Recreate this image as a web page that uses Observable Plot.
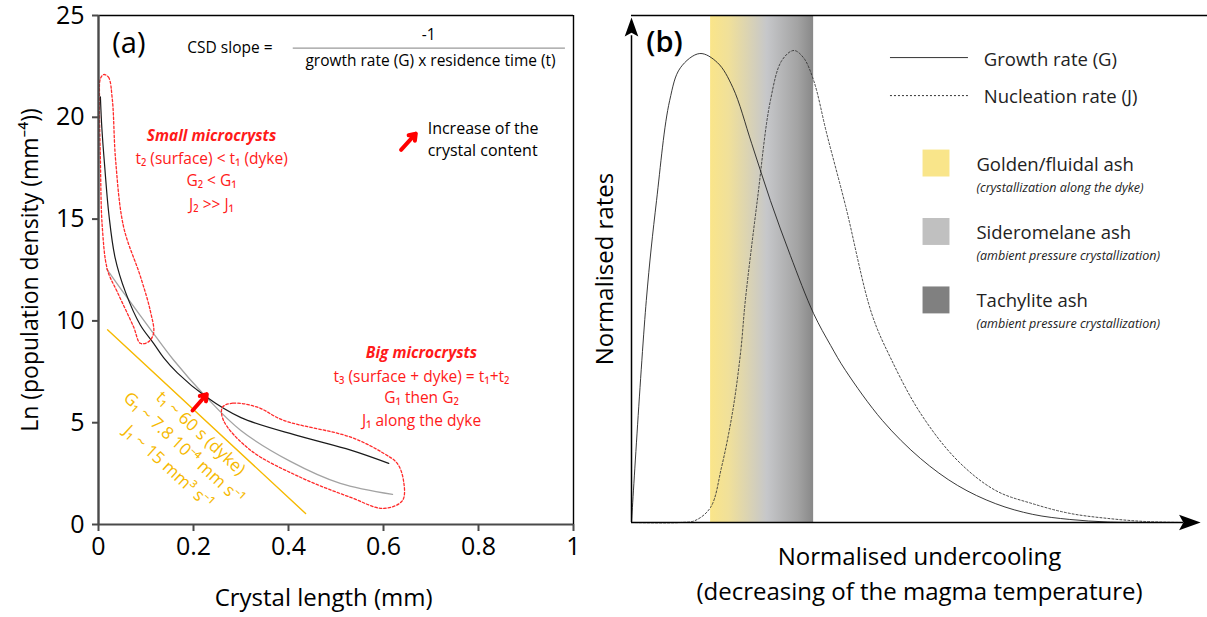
<!DOCTYPE html>
<html><head><meta charset="utf-8">
<script src="https://cdn.jsdelivr.net/npm/d3@7"></script>
<script src="https://cdn.jsdelivr.net/npm/@observablehq/plot@0.6"></script>
<style>
body{margin:0;background:#fff;}
#wrap{display:flex;width:1207px;height:617px;overflow:hidden;}
svg{display:block;overflow:visible;}
</style>
</head><body><div id="wrap"></div>
<script>
// ---------- Panel (a) data ----------
const xTicksA = [0, 0.2, 0.4, 0.6, 0.8, 1];
const yTicksA = [0, 5, 10, 15, 20, 25];
const csdBlack = [[0.004,21.0],[0.007,19.5],[0.013,17.6],[0.022,15.2],[0.035,13.1],[0.057,11.4],[0.088,9.8],[0.116,8.9],[0.137,8.2],[0.166,7.45],[0.225,6.3],[0.30,5.25],[0.425,4.33],[0.531,3.65],[0.611,3.0]];
const csdGray = [[0.017,12.56],[0.057,11.25],[0.109,9.6],[0.158,8.08],[0.225,6.3],[0.299,4.63],[0.404,3.1],[0.509,2.02],[0.619,1.48]];
const yellowLine = [[0.019,9.56],[0.436,0.54]];
const smallEnvelope = [[0.011,22.1],[0.021,21.97],[0.029,20.9],[0.036,17.9],[0.053,14.6],[0.088,12.2],[0.109,10.5],[0.116,9.4],[0.105,8.97],[0.088,8.9],[0.074,9.7],[0.040,11.4],[0.019,12.5],[0.008,14.6],[0.004,17.9],[0.002,20.9],[0.004,21.9]];
const bigEnvelope = [[0.261,5.76],[0.284,5.96],[0.335,5.76],[0.389,5.12],[0.531,4.29],[0.600,3.50],[0.629,3.0],[0.642,2.17],[0.640,1.18],[0.600,0.79],[0.531,1.33],[0.425,2.32],[0.320,3.65],[0.263,5.12]];
const redArrows = [{x1:0.198,y1:5.6,x2:0.228,y2:6.4},{x1:0.637,y1:18.4,x2:0.668,y2:19.2}];
const smallTitle = ["Small microcrysts"];
const smallLabels = ["t\u2082 (surface) < t\u2081 (dyke)","G\u2082 < G\u2081","J\u2082 >> J\u2081"];
const bigTitle = ["Big microcrysts"];
const bigLabels = ["t\u2083 (surface + dyke) = t\u2081+t\u2082","G\u2081 then G\u2082","J\u2081 along the dyke"];
const yellowLabels = ["t\u2081 ~ 60 s (dyke)","G\u2081 ~ 7.8 10\u207B\u2074 mm s\u207B\u00B9","J\u2081 ~ 15 mm\u00B3 s\u207B\u00B9"];
const increaseLabels = ["Increase of the","crystal content"];

// ---------- Panel (b) data ----------
const growthCurve = [[0,0],[2.6,43.8],[4.4,63.5],[6.7,83.2],[8.6,89.7],[12.0,92.5],[15.1,90.7],[17.8,85.8],[21.1,74.8],[24.4,63.5],[27.9,52.7],[32.0,41.2],[35.0,34.9],[37.6,30.0],[44.1,20.1],[50.8,12.6],[57.3,7.3],[64.0,3.7],[70.5,1.6],[77.0,0.6],[83.7,0.1],[91.2,0]];
const nucleationCurve = [[0,0],[8.6,0],[11.2,0.4],[13.9,3.0],[15.8,10.8],[17.8,22.1],[19.2,33.9],[20.0,43.8],[22.1,63.5],[24.4,83.2],[26.4,91.1],[28.5,93.1],[30.2,91.7],[32.0,87.2],[34.3,76.7],[37.6,62.5],[42.2,41.2],[45.5,32.5],[50.8,21.5],[57.3,12.2],[64.0,6.3],[70.5,3.7],[77.0,1.8],[83.7,0.8],[90.2,0.2],[96.5,0]];
const ashBand = [{x1:13.9, x2:32.0, y1:0, y2:100}];
const growthName = ["Growth rate (G)"];
const nucleationName = ["Nucleation rate (J)"];
const ashNames = ["Golden/fluidal ash","Sideromelane ash","Tachylite ash"];
const ashNotes = ["(crystallization along the dyke)","(ambient pressure crystallization)","(ambient pressure crystallization)"];
const ashColors = ["#f9e58a","#c0c0c0","#808080"];
const xTitleB = ["Normalised undercooling", "(decreasing of the magma temperature)"];

const FONT = "'Open Sans', 'Noto Sans', 'DejaVu Sans', sans-serif";
const P = d => d[0], Q = d => d[1];

// arrowhead symbol: tip at origin, body downward
const arrowHead = {draw(ctx, size){ const s = Math.sqrt(size/Math.PI)*1.8; ctx.moveTo(0,0); ctx.lineTo(0.36*s, s); ctx.lineTo(0, 0.8*s); ctx.lineTo(-0.36*s, s); ctx.closePath(); }};

const redBold = {fontSize: 15.5, fill: "#ff1a1a", fontWeight: "bold", fontStyle: "italic"};
const redReg = {fontSize: 15.5, fill: "#ff1a1a"};

// ---------- Panel (a) ----------
const plotA = Plot.plot({
  width: 600, height: 617,
  marginLeft: 98, marginRight: 27, marginTop: 15, marginBottom: 93,
  style: {fontFamily: FONT, color: "#000", background: "#fff", overflow: "visible"},
  x: {domain: [0, 1]},
  y: {domain: [0, 25]},
  marks: [
    Plot.ruleY([25], {stroke: "#000", strokeWidth: 1.4}),
    Plot.ruleX([1], {stroke: "#000", strokeWidth: 1.4}),
    Plot.line(yellowLine, {x: P, y: Q, stroke: "#f6b900", strokeWidth: 1.4}),
    Plot.line(csdGray, {x: P, y: Q, curve: "catmull-rom", stroke: "#a3a3a3", strokeWidth: 1.3}),
    Plot.line(csdBlack, {x: P, y: Q, curve: "catmull-rom", stroke: "#1a1a1a", strokeWidth: 1.2}),
    Plot.line(smallEnvelope, {x: P, y: Q, curve: "catmull-rom-closed", stroke: "#ff2a2a", strokeWidth: 1.3, strokeDasharray: "2.5,2"}),
    Plot.line(bigEnvelope, {x: P, y: Q, curve: "catmull-rom-closed", stroke: "#ff2a2a", strokeWidth: 1.3, strokeDasharray: "2.5,2"}),
    Plot.arrow(redArrows, {x1: "x1", y1: "y1", x2: "x2", y2: "y2", stroke: "#ff0000", strokeWidth: 4, headLength: 8, headAngle: 70}),
    Plot.ruleX([0], {stroke: "#4a4a4a", strokeWidth: 2.4}),
    Plot.ruleY([0], {stroke: "#4a4a4a", strokeWidth: 2.2}),
    Plot.axisX({ticks: xTicksA, tickFormat: d => String(d), tickSize: 7, tickPadding: 6, fontSize: 25, label: null, stroke: "#4a4a4a", strokeWidth: 2}),
    Plot.axisY({ticks: yTicksA, tickSize: 6, tickPadding: 8, fontSize: 25, label: null, stroke: "#4a4a4a", strokeWidth: 2}),
    Plot.text(["Ln (population density (mm\u207B\u2074))"], {x: -0.143, y: 12.5, rotate: -90, fontSize: 23, fill: "#000"}),
    Plot.text(["Crystal length (mm)"], {x: 0.474, y: -3.63, fontSize: 24, fill: "#000"}),
    Plot.text(["(a)"], {x: 0.029, y: 23.6, textAnchor: "start", fontSize: 29, fill: "#000"}),
    Plot.text(["CSD slope ="], {x: 0.187, y: 23.4, textAnchor: "start", fontSize: 15.5, fill: "#000"}),
    Plot.text(["-1"], {x: 0.695, y: 24.05, fontSize: 15.5, fill: "#000"}),
    Plot.ruleY([23.4], {x1: 0.41, x2: 0.983, stroke: "#9a9a9a", strokeWidth: 1.2}),
    Plot.text(["growth rate (G) x residence time (t)"], {x: 0.699, y: 22.75, fontSize: 15.5, fill: "#000"}),
    Plot.text(smallTitle, {x: 0.238, y: 19.06, ...redBold}),
    Plot.text(smallLabels, {x: 0.238, y: (d, i) => [17.93, 16.85, 15.71][i], ...redReg}),
    Plot.text(bigTitle, {x: 0.68, y: 8.42, ...redBold}),
    Plot.text(bigLabels, {x: 0.68, y: (d, i) => [7.24, 6.21, 5.07][i], ...redReg}),
    Plot.text(increaseLabels, {x: 0.693, y: (d, i) => [19.41, 18.33][i], textAnchor: "start", fontSize: 16, fill: "#000"}),
    Plot.text(yellowLabels, {x: (d, i) => [0.215, 0.179, 0.147][i], y: (d, i) => [4.48, 3.74, 2.81][i], rotate: 42.7, fontSize: 17, fill: "#f6b900"})
  ]
});

// ---------- Panel (b) ----------
const bandDefs = () => {
  const defs = d3.create("svg:defs");
  const g = defs.append("linearGradient").attr("id", "ashGrad").attr("x1", 0).attr("x2", 1).attr("y1", 0).attr("y2", 0);
  [["0%", "#fae589"], ["18%", "#f0e09a"], ["55%", "#c6c7ca"], ["85%", "#a3a3a3"], ["100%", "#888888"]].forEach(([o, c]) => g.append("stop").attr("offset", o).attr("stop-color", c));
  return defs.node();
};

const plotB = Plot.plot({
  width: 607, height: 617,
  marginLeft: 31, marginRight: 0, marginTop: 15, marginBottom: 95,
  style: {fontFamily: FONT, color: "#000", background: "#fff", overflow: "visible"},
  x: {domain: [0, 101.2], axis: null},
  y: {domain: [0, 100], axis: null},
  marks: [
    bandDefs,
    Plot.rect(ashBand, {x1: "x1", x2: "x2", y1: "y1", y2: "y2", fill: "url(#ashGrad)"}),
    Plot.ruleY([100], {stroke: "#000", strokeWidth: 1.5}),
    Plot.line(nucleationCurve, {x: P, y: Q, curve: "catmull-rom", stroke: "#333", strokeWidth: 0.9, strokeDasharray: "2,2"}),
    Plot.line(growthCurve, {x: P, y: Q, curve: "catmull-rom", stroke: "#222", strokeWidth: 0.9}),
    Plot.ruleX([0], {y1: 0, y2: 96, stroke: "#000", strokeWidth: 1.5}),
    Plot.ruleY([0], {x1: 0, x2: 97, stroke: "#000", strokeWidth: 1.5}),
    Plot.dot([[0, 99.6]], {x: P, y: Q, symbol: arrowHead, r: 10.5, fill: "#000", stroke: "none"}),
    Plot.dot([[100, 0]], {x: P, y: Q, symbol: arrowHead, r: 12, rotate: 90, fill: "#000", stroke: "none"}),
    Plot.text(["(b)"], {x: 2.6, y: 94.6, textAnchor: "start", fontSize: 29, fontWeight: 600, fill: "#000"}),
    Plot.text(["Normalised rates"], {x: -4.57, y: 50, rotate: -90, fontSize: 24, fill: "#000"}),
    Plot.text(xTitleB, {x: 50.6, y: (d, i) => [-6.9, -13.8][i], fontSize: 24, fill: "#000"}),
    Plot.ruleY([91.7], {x1: 45.5, x2: 59.2, stroke: "#333", strokeWidth: 1}),
    Plot.ruleY([84.2], {x1: 45.5, x2: 59.2, stroke: "#333", strokeWidth: 1, strokeDasharray: "2,2"}),
    Plot.text(growthName, {x: 61.9, y: 91.2, textAnchor: "start", fontSize: 18.5, fill: "#222"}),
    Plot.text(nucleationName, {x: 61.9, y: 83.9, textAnchor: "start", fontSize: 18.5, fill: "#222"}),
    Plot.dot(ashNames, {x: 53.5, y: (d, i) => [70.9, 57.4, 43.9][i], symbol: "square", r: 15.2, fill: (d, i) => ashColors[i], stroke: "none"}),
    Plot.text(ashNames, {x: 60.6, y: (d, i) => [70.4, 57.0, 43.6][i], textAnchor: "start", fontSize: 18.5, fill: "#222"}),
    Plot.text(ashNotes, {x: 60.6, y: (d, i) => [65.9, 52.5, 39.1][i], textAnchor: "start", fontSize: 12.5, fontStyle: "italic", fill: "#222"})
  ]
});

const wrap = document.getElementById("wrap");
wrap.appendChild(plotA);
wrap.appendChild(plotB);
</script></body></html>
